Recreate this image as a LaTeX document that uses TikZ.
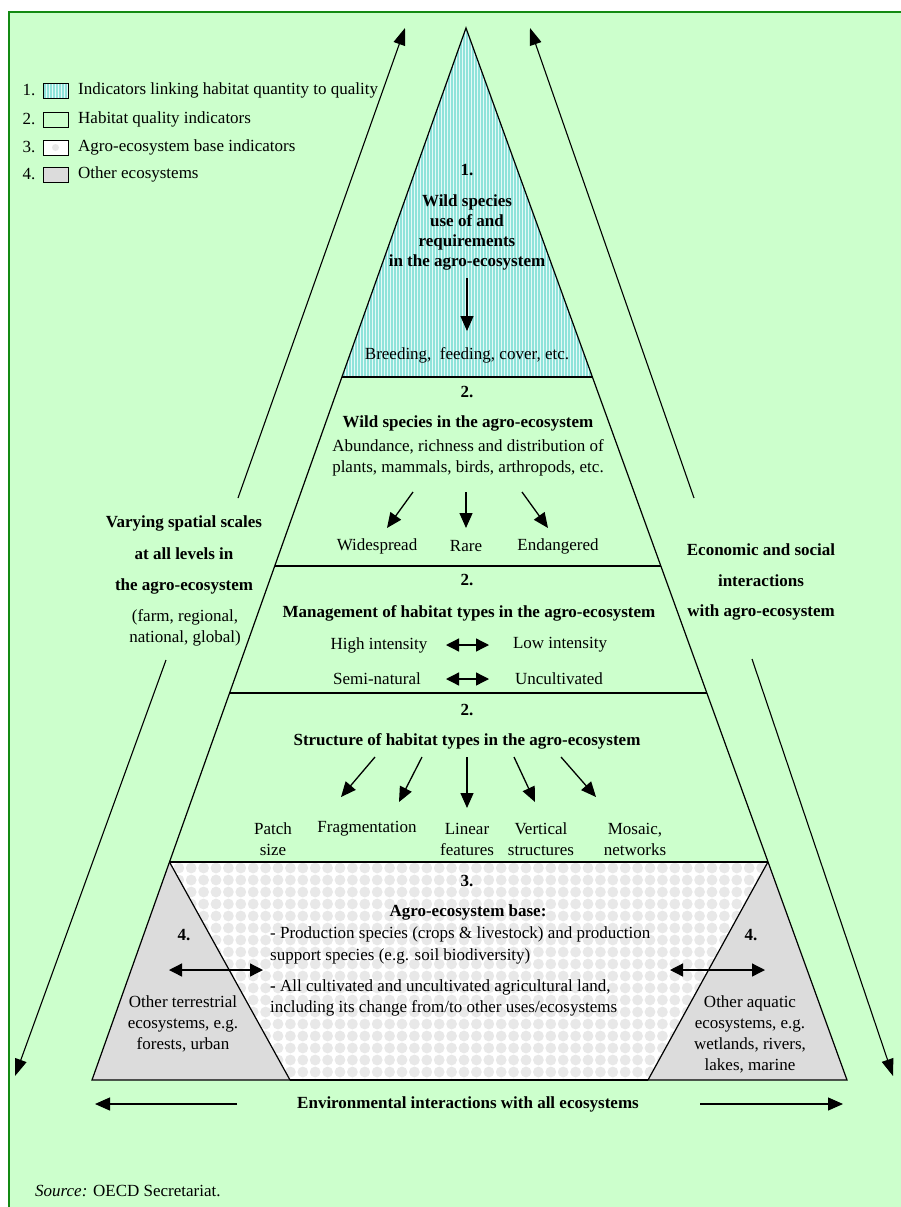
\documentclass[tikz,border=0pt]{standalone}
\usepackage{fontspec}
\setmainfont{Liberation Serif}
\usetikzlibrary{arrows.meta}
\definecolor{bg}{HTML}{CCFFCC}
\definecolor{framec}{HTML}{138A13}
\definecolor{stripec}{HTML}{8FE3DA}
\definecolor{stripebase}{HTML}{E4FAF7}
\definecolor{greyfill}{HTML}{DCDCDC}
\definecolor{dotc}{HTML}{E8E8E8}
\tikzset{
  txt/.style={font=\fontsize{17}{21}\selectfont, inner sep=0pt, align=center},
  bf/.style={txt, font=\fontsize{17}{21}\selectfont\bfseries},
  edge/.style={line width=1.2pt, black},
  arr/.style={line width=1.3pt, -{Triangle[length=15pt,width=13pt]}},
  darr/.style={line width=1.3pt, {Triangle[length=13pt,width=13pt]}-{Triangle[length=13pt,width=13pt]}},
  bigarr/.style={line width=1.1pt, -{Triangle[length=17pt,width=12pt]}},
  legbox/.style={draw=black, line width=0.8pt}
}
\begin{document}
\begin{tikzpicture}[x=1pt,y=-1pt]
\useasboundingbox (0,0) rectangle (901,1207);
\fill[white] (0,0) rectangle (901,1207);
\fill[bg] (9,12) rectangle (901,1207);
\draw[framec, line width=2pt] (9,1207) -- (9,12) -- (901,12);

% pyramid coordinates
\coordinate (A) at (466,28);
\coordinate (BL) at (92,1080);
\coordinate (BR) at (847,1080);
\coordinate (L1) at (341.9,377);  \coordinate (R1) at (592.3,377);
\coordinate (L2) at (274.7,566);  \coordinate (R2) at (660.8,566);
\coordinate (L3) at (229.6,693);  \coordinate (R3) at (706.7,693);
\coordinate (L4) at (169.5,862);  \coordinate (R4) at (767.9,862);
\coordinate (GL) at (290,1080);
\coordinate (GR) at (648,1080);

% triangle 1 stripes
\begin{scope}
\clip (A) -- (L1) -- (R1) -- cycle;
\fill[stripebase] (340,28) rectangle (595,377);
\foreach \x in {340,343,...,595} \fill[stripec] (\x,28) rectangle (\x+1.6,377);
\end{scope}

% base dotted pattern
\begin{scope}
\clip (L4) -- (R4) -- (BR) -- (BL) -- cycle;
\fill[white] (90,860) rectangle (850,1082);
\foreach \i in {0,...,61} {
  \foreach \j in {0,...,18} {
    \fill[dotc] (92+\i*12.4, 868+\j*12) circle (5.4);
  }
}
\end{scope}

% grey triangles
\fill[greyfill] (L4) -- (BL) -- (GL) -- cycle;
\fill[greyfill] (R4) -- (BR) -- (GR) -- cycle;
\draw[edge] (L4) -- (GL);
\draw[edge] (R4) -- (GR);

% pyramid outline and levels
\draw[edge] (A) -- (BL) -- (BR) -- cycle;
\draw[edge] (L1) -- (R1);
\draw[edge] (L2) -- (R2);
\draw[edge] (L3) -- (R3);
\draw[edge] (L4) -- (R4);
\draw[line width=2.4pt] (GL) -- (GR);

% legend
\node[txt] (n1) at (29,90) {1.};
\node[txt] (n2) at (29,119) {2.};
\node[txt] (n3) at (29,147) {3.};
\node[txt] (n4) at (29,174) {4.};
\begin{scope}
\clip (43,83) rectangle (68,98);
\fill[stripebase] (43,83) rectangle (68,98);
\foreach \x in {44,47,...,68} \fill[stripec] (\x,83) rectangle (\x+1.6,98);
\end{scope}
\draw[legbox] (43,83) rectangle (68,98);
\draw[legbox, fill=bg] (43,112) rectangle (68,127);
\draw[legbox, fill=white] (43,140) rectangle (68,155);
\fill[dotc] (55.5,147.5) circle (3.5);
\draw[legbox, fill=greyfill] (43,167) rectangle (68,182);
\node[txt, anchor=west] (l1) at (78,90) {Indicators linking habitat quantity to quality};
\node[txt, anchor=west] (l2) at (78,119) {Habitat quality indicators};
\node[txt, anchor=west] (l3) at (78,147) {Agro-ecosystem base indicators};
\node[txt, anchor=west] (l4) at (78,174) {Other ecosystems};

% big side arrows
\coordinate (ulS) at (238,498); \coordinate (ulT) at (405,28);
\coordinate (llS) at (166,660); \coordinate (llT) at (15,1076);
\coordinate (urS) at (694,498); \coordinate (urT) at (530,28);
\coordinate (lrS) at (752,659); \coordinate (lrT) at (893,1076);
\draw[bigarr] (ulS) -- (ulT);
\draw[bigarr] (llS) -- (llT);
\draw[bigarr] (urS) -- (urT);
\draw[bigarr] (lrS) -- (lrT);

% side labels
\node[bf] (vs1) at (184,523) {Varying spatial scales};
\node[bf] (vs2) at (184,554) {at all levels in};
\node[bf] (vs3) at (184,586) {the agro-ecosystem};
\node[txt] (vs4) at (185,617) {(farm, regional,};
\node[txt] (vs5) at (185,638) {national, global)};
\node[bf] (es1) at (761,550) {Economic and social};
\node[bf] (es2) at (761,581) {interactions};
\node[bf] (es3) at (761,612) {with agro-ecosystem};

% section 1
\node[bf] (s1n) at (467,170) {1.};
\node[bf] (s1t) at (467,232) {Wild species\\[-1pt]use of and\\[-1pt]requirements\\[-1pt]in the agro-ecosystem};
\coordinate (s1a) at (467,278); \coordinate (s1b) at (467,331);
\draw[arr] (s1a) -- (s1b);
\node[txt] (s1c) at (467,355) {Breeding,\ \ feeding, cover, etc.};

% section 2a
\node[bf] (s2n) at (467,392) {2.};
\node[bf] (s2t) at (468,423) {Wild species in the agro-ecosystem};
\node[txt] (s2d) at (468,458) {Abundance, richness and distribution of\\plants, mammals, birds, arthropods, etc.};
\node[txt] (wide) at (377,546) {Widespread};
\node[txt] (rare) at (466,546) {Rare};
\node[txt] (endg) at (558,546) {Endangered};
\coordinate (a2s1) at (413,492); \coordinate (a2e1) at (387,528);
\coordinate (a2s2) at (466,492); \coordinate (a2e2) at (466,528);
\coordinate (a2s3) at (522,492); \coordinate (a2e3) at (548,528);
\draw[arr] (a2s1) -- (a2e1);
\draw[arr] (a2s2) -- (a2e2);
\draw[arr] (a2s3) -- (a2e3);

% section 2b
\node[bf] (s3n) at (467,580) {2.};
\node[bf] (s3t) at (469,613) {Management of habitat types in the agro-ecosystem};
\node[txt] (hi) at (379,645) {High intensity};
\node[txt] (lo) at (560,645) {Low intensity};
\node[txt] (sn) at (377,679) {Semi-natural};
\node[txt] (un) at (559,679) {Uncultivated};
\coordinate (d1a) at (446,645); \coordinate (d1b) at (489,645);
\coordinate (d2a) at (446,679); \coordinate (d2b) at (489,679);
\draw[darr] (d1a) -- (d1b);
\draw[darr] (d2a) -- (d2b);

% section 2c
\node[bf] (s4n) at (467,710) {2.};
\node[bf] (s4t) at (467,741) {Structure of habitat types in the agro-ecosystem};
\node[txt] (patch) at (273,839) {Patch\\size};
\node[txt] (frag) at (367,829) {Fragmentation};
\node[txt] (lin) at (467,839) {Linear\\features};
\node[txt] (vert) at (541,839) {Vertical\\structures};
\node[txt] (mos) at (635,839) {Mosaic,\\networks};
\coordinate (a4s1) at (375,757); \coordinate (a4e1) at (341,797);
\coordinate (a4s2) at (422,757); \coordinate (a4e2) at (399,802);
\coordinate (a4s3) at (467,757); \coordinate (a4e3) at (467,808);
\coordinate (a4s4) at (514,757); \coordinate (a4e4) at (535,802);
\coordinate (a4s5) at (561,757); \coordinate (a4e5) at (596,797);
\foreach \k in {1,...,5} \draw[arr] (a4s\k) -- (a4e\k);

% section 3
\node[bf] (s5n) at (467,881) {3.};
\node[bf] (s5t) at (468,912) {Agro-ecosystem base:};
\node[txt, anchor=west] (b1) at (270,934) {- Production species (crops \& livestock) and production};
\node[txt, anchor=west] (b2) at (270,956) {support species (e.g. soil biodiversity)};
\node[txt, anchor=west] (b3) at (270,987) {\textbf{-} All cultivated and uncultivated agricultural land,};
\node[txt, anchor=west] (b4) at (270,1008) {including its change from/to other uses/ecosystems};

% other ecosystems
\node[bf] (g1n) at (184,935) {4.};
\coordinate (g1a) at (169,970); \coordinate (g1b) at (263,970);
\draw[darr] (g1a) -- (g1b);
\node[txt] (g1t) at (183,1023.5) {Other terrestrial\\ecosystems, e.g.\\forests, urban};
\node[bf] (g2n) at (751,935) {4.};
\coordinate (g2a) at (670,970); \coordinate (g2b) at (765,970);
\draw[darr] (g2a) -- (g2b);
\node[txt] (g2t) at (750,1034) {Other aquatic\\ecosystems, e.g.\\wetlands, rivers,\\lakes, marine};

% bottom
\node[bf] (env) at (468,1104) {Environmental interactions with all ecosystems};
\coordinate (e1s) at (237,1104); \coordinate (e1t) at (95,1104);
\coordinate (e2s) at (700,1104); \coordinate (e2t) at (843,1104);
\draw[arr] (e1s) -- (e1t);
\draw[arr] (e2s) -- (e2t);

\node[txt, anchor=west] (src) at (35,1191) {\textit{Source:} OECD Secretariat.};
\end{tikzpicture}
\end{document}
